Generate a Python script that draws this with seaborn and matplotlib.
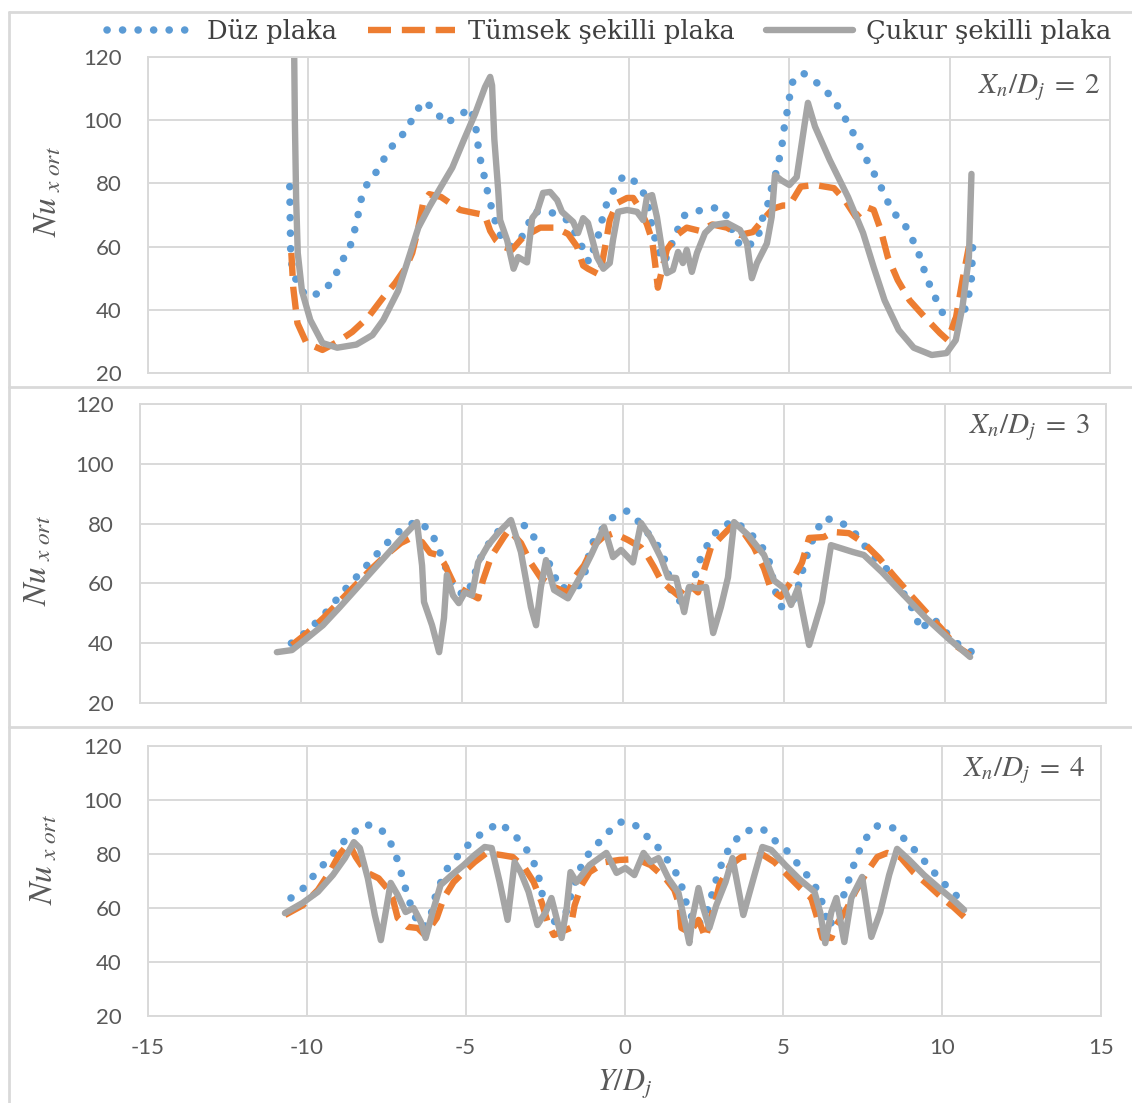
import numpy as np
import pandas as pd
import matplotlib
matplotlib.use("Agg")
import matplotlib.pyplot as plt
from matplotlib.lines import Line2D
import seaborn as sns

# ---- Nu_x,ort profiles along Y/D_j (three nozzle-to-plate spacings) ----
# X_n/D_j = 2
duz_2 = [(-10.58, 79), (-10.57, 72), (-10.56, 65), (-10.55, 58), (-10.5, 53), (-10.3, 47), (-10.0, 44),
         (-9.5, 46), (-9.2, 50), (-8.97, 55), (-8.7, 60), (-8.56, 65), (-8.45, 70), (-8.35, 75), (-8.16, 80),
         (-7.85, 84), (-7.57, 89), (-7.3, 93), (-6.95, 96.6), (-6.73, 101), (-6.43, 106), (-6.05, 103.5),
         (-5.76, 99), (-5.33, 101), (-4.95, 104), (-4.8, 99.5), (-4.73, 94), (-4.67, 89), (-4.55, 84),
         (-4.45, 79), (-4.33, 74), (-4.2, 69), (-4.05, 64), (-3.7, 60), (-3.4, 62), (-3.18, 66), (-2.99, 71),
         (-2.46, 71), (-1.93, 68.4), (-1.6, 63), (-1.25, 55), (-0.97, 63), (-0.84, 68.4), (-0.69, 73.8),
         (-0.47, 78), (-0.16, 82.6), (0.28, 80), (0.56, 75), (0.65, 70), (0.75, 65), (0.9, 59), (1.1, 55),
         (1.5, 65), (1.74, 70), (2.27, 71.6), (2.83, 72.5), (3.12, 68.7), (3.27, 63), (3.55, 59.5),
         (4.02, 62), (4.1, 67.5), (4.3, 72), (4.4, 77), (4.55, 82), (4.67, 87), (4.77, 92), (4.83, 97),
         (4.92, 102), (5.0, 107), (5.1, 112), (5.42, 115), (5.86, 111.8), (6.26, 108), (6.54, 104),
         (6.83, 99), (7.07, 94.4), (7.3, 89.6), (7.54, 85), (7.79, 80.4), (8.0, 75.7), (8.22, 71),
         (8.57, 67.5), (8.82, 62.7), (9.03, 58), (9.19, 53), (9.35, 48.5), (9.56, 43.7), (9.78, 39),
         (10.2, 36.5), (10.5, 40.6), (10.6, 45), (10.68, 50), (10.7, 55.7), (10.72, 61)]
tumsek_2 = [(-10.53, 58), (-10.47, 47), (-10.34, 35.8), (-10.06, 29.5), (-9.56, 27.3), (-9.1, 29.8),
            (-8.63, 33), (-8.13, 37.7), (-7.66, 44), (-7.29, 48.5), (-6.95, 53.5), (-6.76, 58), (-6.57, 66),
            (-6.42, 73.8), (-6.23, 76.6), (-5.86, 75.7), (-5.27, 71.6), (-4.8, 70.6), (-4.5, 70), (-4.33, 65),
            (-4.15, 62), (-3.92, 60), (-3.65, 59), (-3.3, 63), (-2.77, 66), (-2.3, 66), (-1.9, 64),
            (-1.62, 60), (-1.43, 54), (-1.28, 53), (-0.9, 51), (-0.8, 57), (-0.69, 63), (-0.6, 68.4),
            (-0.37, 73.8), (-0.06, 75.4), (0.13, 75.4), (0.34, 72), (0.56, 67), (0.72, 62), (0.81, 55),
            (0.9, 47), (1.03, 52.6), (1.18, 59), (1.5, 63.7), (1.8, 66), (2.2, 65), (2.6, 67), (3.05, 66),
            (3.46, 63.7), (3.86, 64.6), (4.17, 68.4), (4.49, 72), (4.8, 73), (5.0, 73), (5.36, 79),
            (5.8, 79.5), (6.39, 78.5), (6.73, 74.7), (7.07, 69.4), (7.4, 72.5), (7.63, 71.6), (7.85, 65.3),
            (8.07, 56.7), (8.38, 49.4), (8.75, 43), (9.22, 37.7), (9.7, 32.6), (9.94, 30.4), (10.2, 37.7),
            (10.4, 49.4), (10.6, 60)]
cukur_2 = [(-10.45, 130), (-10.42, 100), (-10.38, 75), (-10.33, 58), (-10.2, 46), (-9.94, 36.8),
           (-9.56, 29.5), (-9.1, 28), (-8.5, 29), (-8.0, 32), (-7.66, 36.8), (-7.2, 46), (-6.82, 58),
           (-6.57, 66), (-6.23, 72.5), (-5.86, 79), (-5.51, 85), (-5.14, 94), (-4.8, 102), (-4.49, 110.5),
           (-4.33, 113.7), (-4.27, 111), (-4.2, 94), (-4.08, 78), (-4.02, 68.4), (-3.8, 62), (-3.6, 53),
           (-3.46, 56.7), (-3.18, 55), (-3.02, 69), (-2.87, 71), (-2.68, 77), (-2.46, 77.3), (-2.24, 74.7),
           (-2.09, 71), (-1.74, 67.8), (-1.59, 64.3), (-1.43, 69), (-1.28, 67.5), (-1.0, 56.7), (-0.8, 53),
           (-0.6, 54.8), (-0.5, 62), (-0.34, 71), (-0.06, 71.6), (0.25, 71), (0.44, 68.4), (0.56, 75.7),
           (0.72, 76.3), (0.87, 69.4), (1.03, 59), (1.18, 51.6), (1.37, 52.6), (1.53, 58.3), (1.68, 54.8),
           (1.8, 59), (1.96, 52), (2.12, 58), (2.37, 64.3), (2.62, 66.8), (3.05, 67.5), (3.46, 65.3),
           (3.68, 61), (3.83, 50), (3.99, 54.8), (4.3, 61), (4.45, 69.4), (4.55, 82.6), (4.75, 81),
           (5.0, 79.5), (5.23, 82), (5.48, 99), (5.58, 105.5), (5.8, 98), (6.26, 87.4), (6.83, 75.7),
           (7.3, 64.3), (7.63, 53.5), (7.97, 43), (8.41, 33.6), (8.88, 28), (9.44, 25.7), (9.9, 26.3),
           (10.19, 30.4), (10.4, 41), (10.6, 56.7), (10.68, 83)]

# X_n/D_j = 3
duz_3 = [(-10.3, 40), (-9.88, 43.4), (-9.44, 47.8), (-9.1, 51.8), (-8.76, 56.5), (-8.39, 60.8), (-8.04, 65),
         (-7.67, 69.5), (-7.3, 73.8), (-6.9, 77.9), (-6.4, 80.9), (-5.96, 77.5), (-5.78, 72.8), (-5.56, 67),
         (-5.4, 62), (-5.1, 57), (-4.85, 56), (-4.63, 62), (-4.5, 67), (-4.25, 72), (-3.94, 76.8),
         (-3.48, 80.9), (-2.95, 78.9), (-2.7, 74.2), (-2.45, 69.5), (-2.17, 64.5), (-2.02, 58.8),
         (-1.71, 58.4), (-1.4, 58.8), (-1.2, 62.8), (-0.99, 72.8), (-0.75, 76.8), (-0.34, 81.9),
         (0.12, 84.2), (0.5, 80.5), (0.87, 75.5), (1.18, 71.2), (1.37, 65.5), (1.5, 57), (1.75, 54),
         (2.05, 58), (2.27, 63.4), (2.42, 68.8), (2.67, 73.8), (2.98, 78.5), (3.45, 80.9), (3.91, 77.2),
         (4.29, 72.8), (4.53, 67.8), (4.75, 56.8), (4.94, 51.8), (5.34, 55), (5.62, 66), (5.78, 71.6),
         (5.99, 77.2), (6.24, 81.9), (6.77, 80.5), (7.2, 76.8), (7.55, 72), (7.95, 67), (8.3, 63.8),
         (8.6, 58.8), (9.1, 49.4), (9.22, 44.4), (9.63, 48.4), (10.3, 40.4), (10.84, 37)]
tumsek_3 = [(-10.28, 39.4), (-9.8, 43.5), (-9.3, 48.5), (-8.8, 54), (-8.3, 59.5), (-7.8, 65), (-7.3, 70),
            (-6.9, 73.5), (-6.58, 75.2), (-6.24, 73.8), (-5.99, 70.2), (-5.75, 69.5), (-5.56, 66.8),
            (-5.24, 59.5), (-4.81, 56.8), (-4.5, 55), (-4.35, 61), (-4.1, 68.8), (-3.7, 75.5), (-3.54, 77.9),
            (-3.17, 73.5), (-2.86, 66.8), (-2.55, 61.8), (-2.14, 58.8), (-1.71, 56.8), (-1.52, 61.8),
            (-1.21, 66), (-0.9, 72.8), (-0.62, 75.5), (-0.28, 76.8), (0.16, 74.5), (0.56, 72), (0.78, 68.8),
            (0.96, 65.5), (1.18, 61), (1.4, 58.8), (1.71, 56), (2.02, 60), (2.33, 57), (2.52, 64.5),
            (2.73, 72), (3.04, 75.5), (3.35, 78.9), (3.76, 76.8), (4.07, 72), (4.38, 65), (4.6, 57.8),
            (4.9, 55.5), (5.31, 62), (5.56, 67), (5.78, 75.2), (6.24, 75.5), (6.52, 77.2), (7.02, 76.8),
            (7.48, 73.5), (7.95, 68.5), (8.39, 62.8), (8.94, 56), (9.41, 50.4), (9.88, 45), (10.3, 39.4),
            (10.78, 36)]
cukur_3 = [(-10.75, 37), (-10.28, 37.7), (-9.81, 41.7), (-9.32, 46), (-8.8, 52), (-8.3, 58), (-7.8, 64),
           (-7.3, 70), (-6.8, 76), (-6.4, 80.5), (-6.24, 66), (-6.18, 53.8), (-5.93, 46), (-5.71, 37),
           (-5.56, 48.4), (-5.47, 62.8), (-5.28, 56), (-5.1, 53.4), (-4.91, 57), (-4.69, 56), (-4.5, 67),
           (-4.19, 72.8), (-3.85, 77.2), (-3.48, 81.2), (-3.17, 70.5), (-2.86, 52.1), (-2.7, 46),
           (-2.55, 58.8), (-2.39, 67.8), (-2.14, 57.8), (-1.71, 55), (-1.3, 62.8), (-0.99, 69.5),
           (-0.59, 78.9), (-0.31, 68.8), (-0.06, 71.2), (0.31, 67), (0.56, 80.2), (0.87, 75.2), (1.18, 68.5),
           (1.4, 62), (1.65, 61.8), (1.9, 50.4), (2.05, 58.8), (2.36, 58.4), (2.58, 58.8), (2.8, 43.4),
           (3.04, 52.1), (3.26, 62), (3.45, 80.5), (3.88, 76.2), (4.38, 69.5), (4.69, 61), (5.0, 58.4),
           (5.22, 52.8), (5.43, 58.4), (5.78, 39.4), (6.18, 53.8), (6.46, 72.8), (7.14, 70.5), (7.48, 69.5),
           (8.04, 63.8), (8.73, 56), (9.41, 48.4), (10.09, 41.7), (10.78, 35.4)]

# X_n/D_j = 4
duz_4 = [(-10.5, 63.7), (-10.06, 67.8), (-9.72, 73), (-9.34, 77.8), (-8.99, 82.6), (-8.62, 87.4), (-8.14, 91),
         (-7.67, 89.3), (-7.36, 84), (-7.17, 78.5), (-7.02, 72.6), (-6.89, 67), (-6.73, 61), (-6.57, 56.3),
         (-6.32, 52.6), (-6.1, 57), (-5.97, 63.7), (-5.79, 69.3), (-5.57, 74.8), (-5.22, 79.6), (-4.84, 84.4),
         (-4.4, 88.5), (-3.93, 91.5), (-3.49, 87.4), (-3.11, 82.2), (-2.86, 77), (-2.7, 71.5), (-2.6, 65.6),
         (-2.48, 60), (-2.2, 55), (-1.85, 58), (-1.64, 66.7), (-1.29, 77.8), (-0.94, 82.6), (-0.57, 87.4),
         (-0.16, 91.9), (0.31, 91), (0.69, 86.7), (1.1, 81.9), (1.42, 76.7), (1.7, 71.5), (1.86, 65.9),
         (1.98, 60), (2.26, 53.3), (2.5, 56), (2.67, 61), (2.8, 67.4), (2.96, 73), (3.12, 78.5), (3.4, 84),
         (3.78, 88.5), (4.35, 89.3), (4.75, 84.8), (5.16, 80.7), (5.5, 75.6), (5.85, 70.7), (6.13, 65.6),
         (6.29, 59.3), (6.42, 53), (6.7, 58), (6.85, 63), (7.01, 68.5), (7.17, 74.4), (7.36, 80.4),
         (7.58, 85.6), (7.96, 90.4), (8.49, 89.6), (8.87, 84.8), (9.25, 80), (9.6, 75.2), (9.95, 70.4),
         (10.32, 65.9), (10.79, 61)]
tumsek_4 = [(-10.69, 57.4), (-10.13, 61), (-9.65, 66.7), (-9.28, 73.3), (-8.99, 79.6), (-8.68, 84),
            (-8.46, 78.9), (-8.14, 73.3), (-7.74, 71), (-7.48, 67.4), (-7.3, 63.7), (-7.14, 56.3), (-6.82, 53),
            (-6.51, 52.6), (-6.29, 50), (-5.91, 56.3), (-5.69, 63.7), (-5.38, 69.6), (-5.06, 73.3), (-4.72, 77),
            (-4.34, 80.4), (-3.87, 79.6), (-3.52, 78.9), (-3.14, 74.8), (-2.86, 69.6), (-2.61, 62.2),
            (-2.42, 54.8), (-2.23, 50), (-1.7, 52.6), (-1.57, 61), (-1.35, 68.5), (-1.1, 73.3), (-0.6, 77),
            (-0.16, 77.8), (0.38, 78.1), (0.82, 75.9), (1.29, 71), (1.57, 66.7), (1.73, 61), (1.79, 52.6),
            (2.05, 51), (2.33, 55.6), (2.55, 48.9), (2.77, 58.5), (2.99, 68.5), (3.33, 75.9), (3.68, 78.9),
            (4.37, 79.6), (4.72, 77), (5.06, 73), (5.53, 67.4), (5.88, 63.7), (6.04, 57.4), (6.23, 48.9),
            (6.51, 48.9), (6.67, 53.7), (7.01, 60), (7.26, 65.9), (7.61, 73), (7.96, 78.9), (8.27, 80.4),
            (8.68, 78.9), (9.09, 73.3), (9.56, 68.5), (10.0, 63.7), (10.35, 60.4), (10.69, 56.7)]
cukur_4 = [(-10.69, 58.1), (-10.13, 61.9), (-9.65, 66), (-9.18, 72.2), (-8.8, 78.5), (-8.52, 84.4),
           (-8.33, 82.2), (-8.08, 71), (-7.86, 57.4), (-7.67, 48.1), (-7.55, 56.3), (-7.36, 69.3),
           (-7.14, 64.8), (-6.89, 58.5), (-6.64, 60), (-6.41, 54.8), (-6.26, 48.9), (-6.04, 58.5),
           (-5.79, 68.5), (-5.44, 72.2), (-5.06, 75.9), (-4.72, 79.6), (-4.4, 82.6), (-4.18, 82.2),
           (-3.93, 69.6), (-3.68, 55.6), (-3.46, 77), (-3.27, 73.3), (-3.02, 66), (-2.74, 53.7), (-2.48, 58.5),
           (-2.3, 63.7), (-2.14, 56.3), (-1.98, 48.9), (-1.82, 60), (-1.7, 73.3), (-1.51, 69.6), (-1.1, 75.9),
           (-0.57, 80.4), (-0.25, 73), (0.03, 74.8), (0.31, 72.2), (0.6, 80.4), (0.82, 77), (1.07, 78.5),
           (1.38, 71), (1.7, 65.6), (1.92, 53.7), (2.04, 47), (2.14, 56.3), (2.33, 67.4), (2.48, 60),
           (2.67, 52.6), (2.89, 61), (3.18, 69.6), (3.4, 78.5), (3.74, 57.4), (4.09, 72.2), (4.34, 82.6),
           (4.62, 81.5), (5.06, 75.9), (5.53, 70.4), (5.98, 66), (6.16, 58.5), (6.32, 47), (6.51, 58.5),
           (6.67, 63.7), (6.92, 47.4), (7.14, 63.7), (7.48, 71.5), (7.77, 49.3), (8.05, 58.5), (8.33, 72.2),
           (8.58, 81.9), (8.96, 77.8), (9.43, 72.2), (9.9, 67.4), (10.35, 63), (10.69, 59.3)]

series_names = ["Düz plaka", "Tümsek şekilli plaka", "Çukur şekilli plaka"]
spacings = ["2", "3", "4"]
x_ticks = [-15, -10, -5, 0, 5, 10, 15]
y_ticks = [20, 40, 60, 80, 100, 120]

# ---- styling ----
sns.set_theme(style="white")
plt.rcParams["font.family"] = ["Lato", "DejaVu Sans"]
plt.rcParams["mathtext.fontset"] = "stix"

GRID = "#d9d9d9"
TXT = "#595959"
styles = {
    "Düz plaka": dict(color="#5B9BD5", lw=5.4, ls=(0, (0.02, 2.05)), cap="round"),
    "Tümsek şekilli plaka": dict(color="#ED7D31", lw=4.6, ls=(0, (3.6, 1.7)), cap="butt"),
    "Çukur şekilli plaka": dict(color="#A5A5A5", lw=4.6, ls="-", cap="round"),
}

W, H = 1132, 1103
fig = plt.figure(figsize=(W / 100, H / 100), dpi=100)


def box(l, t, r, b):
    return [l / W, 1 - b / H, (r - l) / W, (b - t) / H]


panel_boxes = [box(148, 57, 1110, 373), box(140, 404, 1106, 703), box(148, 746, 1101, 1016)]
ylabel_pos = [(-0.104, 0.573), (-0.106, 0.478), (-0.109, 0.578)]
note_pos = [(0.990, 0.902), (0.983, 0.920), (0.983, 0.907)]
panel_data = [(duz_2, tumsek_2, cukur_2), (duz_3, tumsek_3, cukur_3), (duz_4, tumsek_4, cukur_4)]

for i, (rect, sets) in enumerate(zip(panel_boxes, panel_data)):
    ax = fig.add_axes(rect)
    for name, pts in zip(series_names, sets):
        df = pd.DataFrame(pts, columns=["Y", "Nu"])
        st = styles[name]
        sns.lineplot(data=df, x="Y", y="Nu", ax=ax, estimator=None, sort=False,
                     color=st["color"], linewidth=st["lw"], legend=False)
        ln = ax.lines[-1]
        ln.set_linestyle(st["ls"])
        ln.set_dash_capstyle(st["cap"])
        ln.set_solid_capstyle("round")
        ln.set_solid_joinstyle("round")
        ln.set_dash_joinstyle("round")
    ax.set_xlim(-15, 15)
    ax.set_ylim(20, 120)
    ax.set_xticks(x_ticks)
    ax.set_yticks(y_ticks)
    ax.set_xticklabels([str(t) for t in x_ticks])
    ax.grid(True, color=GRID, linewidth=1.4)
    ax.set_axisbelow(True)
    for sp in ax.spines.values():
        sp.set_color(GRID)
        sp.set_linewidth(1.4)
    ax.tick_params(axis="y", length=0, labelsize=16, labelcolor=TXT, pad=19)
    ax.tick_params(axis="x", length=0, labelsize=16, labelcolor=TXT, pad=16,
                   labelbottom=(i == 2))
    ax.set_xlabel("")
    ax.set_ylabel("")
    ax.text(*ylabel_pos[i], r"$Nu_{\ x\ ort}$", transform=ax.transAxes, rotation=90,
            ha="center", va="center", fontsize=24, color=TXT)
    ax.text(*note_pos[i], r"$X_n/D_j\;=\;\mathit{" + spacings[i] + "}$", transform=ax.transAxes,
            ha="right", va="center", fontsize=21, color=TXT)

fig.text(625 / W, 1 - 1083 / H, r"$Y/D_j$", ha="center", va="center", fontsize=22, color=TXT)

# chart frames
for yy in (12, 387, 727):
    fig.add_artist(Line2D([9 / W, 1.0], [1 - yy / H, 1 - yy / H], color=GRID, lw=2))
fig.add_artist(Line2D([9 / W, 9 / W], [1 - 12 / H, 0], color=GRID, lw=2))

handles = []
for name in series_names:
    st = styles[name]
    h = Line2D([], [], color=st["color"], lw=st["lw"], linestyle=st["ls"])
    h.set_dash_capstyle(st["cap"])
    handles.append(h)
fig.legend(handles, series_names, loc="center", bbox_to_anchor=(609 / W, 1 - 31 / H), ncol=3,
           frameon=False, handlelength=3.4, handletextpad=0.5, columnspacing=1.2,
           prop={"family": "DejaVu Serif", "size": 18.5}, labelcolor="#404040")

fig.savefig("out.png", dpi=100)
